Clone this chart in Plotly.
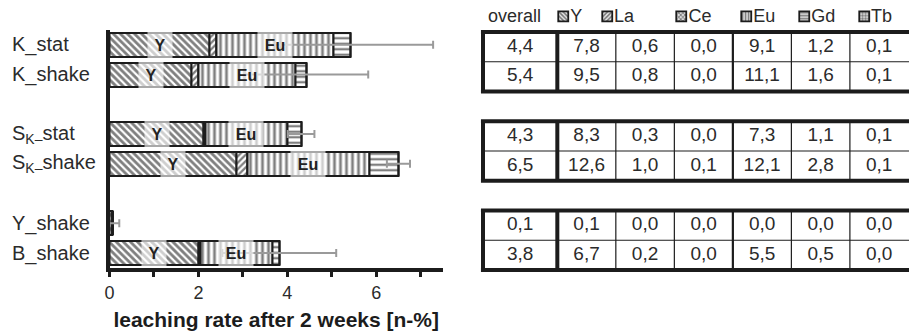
import plotly.graph_objects as go

# ---------------- data ----------------
categories = ["K_stat", "K_shake", "S<sub>K–</sub>stat", "S<sub>K–</sub>shake", "Y_shake", "B_shake"]
cat_slot = [0, 1, 3, 4, 6, 7]          # slot of each category on the y axis

seg_Y  = [2.25, 1.85, 2.12, 2.85, 0.06, 2.01]
seg_La = [0.15, 0.15, 0.03, 0.25, 0.00, 0.04]
seg_Ce = [0.00, 0.00, 0.00, 0.00, 0.00, 0.00]
seg_Eu = [2.63, 2.18, 1.86, 2.75, 0.00, 1.61]
seg_Gd = [0.40, 0.25, 0.30, 0.65, 0.00, 0.16]
seg_Tb = [0.00, 0.00, 0.00, 0.00, 0.00, 0.00]
err_total = [1.85, 1.39, 0.30, 0.26, 0.16, 1.28]

tab_overall = [4.4, 5.4, 4.3, 6.5, 0.1, 3.8]
tab_Y  = [7.8, 9.5, 8.3, 12.6, 0.1, 6.7]
tab_La = [0.6, 0.8, 0.3, 1.0, 0.0, 0.2]
tab_Ce = [0.0, 0.0, 0.0, 0.1, 0.0, 0.0]
tab_Eu = [9.1, 11.1, 7.3, 12.1, 0.0, 5.5]
tab_Gd = [1.2, 1.6, 1.1, 2.8, 0.0, 0.5]
tab_Tb = [0.1, 0.1, 0.1, 0.1, 0.0, 0.0]
tab_first_header = "overall"
elements = ["Y", "La", "Ce", "Eu", "Gd", "Tb"]

x_ticks = [0, 2, 4, 6]
x_title = "<b>leaching rate after 2 weeks [n-%]</b>"

# ---------------- styling / geometry ----------------
W, H = 909, 334
FONT = "Liberation Sans, Arial, sans-serif"
DARK = "#1c1c1c"
TXT = "#2b2b2b"

pat_shape = ["\\", "/", "x", "|", "-", "."]
pat_size = [5, 4.5, 4, 6, 5.5, 4]
pat_sol = [0.56, 0.52, 0.3, 0.46, 0.42, 0.3]
seg_values = [seg_Y, seg_La, seg_Ce, seg_Eu, seg_Gd, seg_Tb]

fig = go.Figure()
base = [0.0] * len(cat_slot)
for k, name in enumerate(elements):
    vals = seg_values[k]
    fig.add_trace(go.Bar(
        y=cat_slot, x=vals, base=list(base), orientation="h", name=name, width=0.8,
        marker=dict(color="white", line=dict(color=DARK, width=2),
                    pattern=dict(shape=pat_shape[k], size=pat_size[k], solidity=pat_sol[k],
                                 fgcolor="#000000", bgcolor="white", fillmode="overlay")),
        showlegend=False, xaxis="x", yaxis="y",
    ))
    base = [b + v for b, v in zip(base, vals)]

totals = base
fig.add_trace(go.Scatter(
    x=totals, y=cat_slot, mode="markers",
    marker=dict(size=1, color="rgba(0,0,0,0)"),
    error_x=dict(type="data", array=err_total, symmetric=True,
                 color="#9a9a9a", thickness=2, width=4),
    showlegend=False, cliponaxis=False, xaxis="x", yaxis="y",
))

annotations = []
# labels inside bars
for i, s in enumerate(cat_slot):
    if seg_Y[i] > 0.5:
        annotations.append(dict(x=seg_Y[i] / 2, y=s, xref="x", yref="y", text="<b>Y</b>",
                                showarrow=False, font=dict(family=FONT, size=16, color="#222"),
                                bgcolor="rgba(255,255,255,0.62)", width=24, height=26, borderpad=0))
    if seg_Eu[i] > 0.5:
        xc = seg_Y[i] + seg_La[i] + seg_Ce[i] + seg_Eu[i] / 2
        annotations.append(dict(x=xc, y=s, xref="x", yref="y", text="<b>Eu</b>",
                                showarrow=False, font=dict(family=FONT, size=16, color="#222"),
                                bgcolor="rgba(255,255,255,0.62)", width=34, height=26, borderpad=0))
# category labels (left aligned)
for i, s in enumerate(cat_slot):
    annotations.append(dict(x=10 / W, xref="paper", xanchor="left", y=s, yref="y",
                            text=categories[i], showarrow=False,
                            font=dict(family=FONT, size=20, color=TXT)))

# ---------------- table (second subplot) ----------------
col_w = [1.27, 1, 1, 1, 1, 1, 1]
col_edges = [0]
for w in col_w:
    col_edges.append(col_edges[-1] + w)
col_center = [(col_edges[k] + col_edges[k + 1]) / 2 for k in range(len(col_w))]

table_cols = [tab_overall, tab_Y, tab_La, tab_Ce, tab_Eu, tab_Gd, tab_Tb]
tx, ty, tt = [], [], []
for c, col in enumerate(table_cols):
    for r, v in enumerate(col):
        tx.append(col_center[c]); ty.append(cat_slot[r])
        tt.append(f"{v:.1f}".replace(".", ","))
fig.add_trace(go.Scatter(x=tx, y=ty, text=tt, mode="text",
                         textfont=dict(family=FONT, size=19, color=TXT),
                         showlegend=False, cliponaxis=False, xaxis="x2", yaxis="y2"))

# header row: "overall" + legend swatches for each element
overall_x = 0.54
icon_x = [1.30, 2.05, 3.32, 4.43, 5.42, 6.44]
icon_w = 0.17
header_row = -1
fig.add_trace(go.Scatter(x=[overall_x], y=[header_row], text=[tab_first_header], mode="text",
                         textfont=dict(family=FONT, size=18, color=TXT),
                         showlegend=False, cliponaxis=False, xaxis="x2", yaxis="y2"))
fig.add_trace(go.Bar(
    y=[header_row] * len(elements), x=[icon_w] * len(elements), base=icon_x,
    orientation="h", width=0.34,
    marker=dict(color="white", line=dict(color=DARK, width=1.8),
                pattern=dict(shape=pat_shape, size=3, solidity=0.5,
                             fgcolor="#000000", bgcolor="#e8e8e8", fillmode="overlay")),
    showlegend=False, xaxis="x2", yaxis="y2",
))
fig.add_trace(go.Scatter(x=[v + icon_w + 0.02 for v in icon_x], y=[header_row] * len(elements),
                         text=elements, mode="text", textposition="middle right",
                         textfont=dict(family=FONT, size=18, color=TXT),
                         showlegend=False, cliponaxis=False, xaxis="x2", yaxis="y2"))

shapes = []
groups = [(0, 1), (3, 4), (6, 7)]
x_end = col_edges[-1] + 0.05
for a, b in groups:
    top, mid, bot = a - 0.5, a + 0.5, b + 0.5
    for yy, lw in ((top, 4), (bot, 4), (mid, 1.2)):
        shapes.append(dict(type="line", xref="x2", yref="y2", x0=-0.035, x1=x_end, y0=yy, y1=yy,
                           line=dict(color=DARK, width=lw)))
    for k, xe in enumerate(col_edges[:-1]):
        lw = 4 if k in (0, 1) else (2.2 if k == 4 else 1.2)
        shapes.append(dict(type="line", xref="x2", yref="y2", x0=xe, x1=xe, y0=top, y1=bot,
                           line=dict(color=DARK, width=lw)))

# ---------------- layout ----------------
X0, X1 = 109.5, 442.9       # bar plot pixel extent
Y0, Y1 = 30, 268
T_L = 477.15
unit = 29.75

fig.update_layout(
    width=W, height=H, margin=dict(l=0, r=0, t=0, b=0),
    paper_bgcolor="white", plot_bgcolor="rgba(0,0,0,0)",
    barmode="overlay", bargap=0,
    font=dict(family=FONT, color=TXT),
    annotations=annotations, shapes=shapes,
    xaxis=dict(domain=[X0 / W, X1 / W], range=[0, 7.5], anchor="y",
               showline=True, linewidth=3.5, linecolor=DARK, mirror=False,
               ticks="outside", ticklen=5, tickwidth=2.5, tickcolor=DARK,
               tickvals=x_ticks, tickfont=dict(family=FONT, size=18, color=TXT),
               ticklabelstandoff=1,
               minor=dict(dtick=1, ticks="outside", ticklen=5, tickwidth=2.5, tickcolor=DARK),
               showgrid=False, zeroline=False, automargin=False,
               title=dict(text=x_title, font=dict(family=FONT, size=21, color=DARK), standoff=11)),
    yaxis=dict(domain=[1 - Y1 / H, 1 - Y0 / H], range=[7.5, -0.5], anchor="x",
               showline=True, linewidth=3.5, linecolor=DARK, showticklabels=False,
               ticks="", showgrid=False, zeroline=False, automargin=False),
    xaxis2=dict(domain=[T_L / W, 1], range=[-0.1, 7.28], anchor="y2", visible=False),
    yaxis2=dict(domain=[1 - (32 + unit * 8.2) / H, 1 - (32 - unit) / H], range=[7.7, -1.5],
                anchor="x2", visible=False),
)

fig.write_html("out.html", config={"displayModeBar": False},
               post_script="document.body.style.margin='0';document.body.style.overflow='hidden';")
